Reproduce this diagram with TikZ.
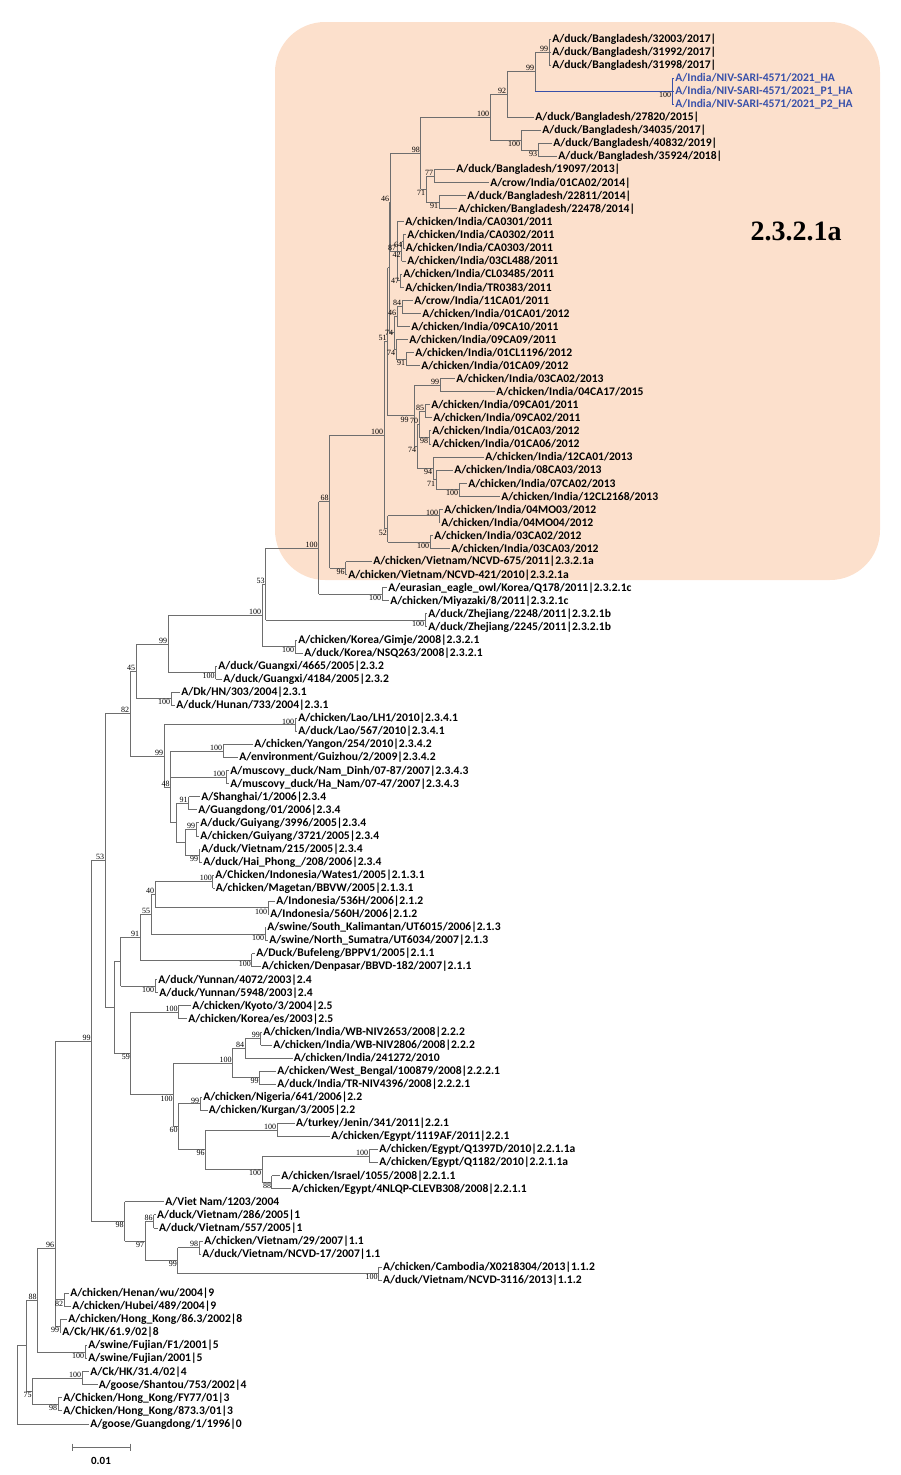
\documentclass[tikz,border=0pt]{standalone}
\usepackage{fontspec}
\usetikzlibrary{calc}
\newfontfamily\lblfont{Carlito}
\newfontfamily\bsfont{Liberation Serif}
\definecolor{brc}{RGB}{110,110,110}
\definecolor{sari}{RGB}{55,80,170}
\definecolor{boxc}{RGB}{252,224,204}
\tikzset{
  br/.style={draw=brc,line width=1pt},
  lbl/.style={anchor=west,inner sep=1.2pt,font=\lblfont\bfseries\fontsize{11.6}{11.6}\selectfont,text=black},
  bsbase/.style={inner sep=0.6pt,font=\bsfont\fontsize{8}{8}\selectfont},
  bsa/.style={bsbase,anchor=south east},
  bsb/.style={bsbase,anchor=north east},
  bsm/.style={bsbase,anchor=east},
}
\newcommand\Lf[4][]{\coordinate (l#2) at (#3,{39+(#2-1)*13.066});\node[lbl,#1] (t#2) at (l#2) {#4};}
\newcommand\Nd[5][]{%
  \path let \p1=($(#4)!0.5!(#5)$) in coordinate (#2) at (#3pt,\y1);%
  \draw[br,#1] (#2 |- #4) -- (#2 |- #5);%
  \draw[br,#1] (#2 |- #4) -- (#4);%
  \draw[br,#1] (#2 |- #5) -- (#5);%
}
\newcommand\Hb[3][]{\draw[br,#1] (#2 |- #3) -- (#3);}
\newcommand\Bs[4][]{\node[bs#4,#1] (b#2) at (#2) {#3};}
\begin{document}
\begin{tikzpicture}[x=1pt,y=-1pt]
\useasboundingbox (0,0) rectangle (900,1475);
\fill[boxc,rounded corners=50pt] (275,22) rectangle (880,580);
\node[font=\bsfont\bfseries\fontsize{28}{28}\selectfont] (clade) at (796,231) {2.3.2.1a};
% leaves
\Lf{1}{551}{A/duck/Bangladesh/32003/2017|}
\Lf{2}{551}{A/duck/Bangladesh/31992/2017|}
\Lf{3}{551}{A/duck/Bangladesh/31998/2017|}
\Lf[text=sari]{4}{674}{A/India/NIV-SARI-4571/2021\_HA}
\Lf[text=sari]{5}{674}{A/India/NIV-SARI-4571/2021\_P1\_HA}
\Lf[text=sari]{6}{674}{A/India/NIV-SARI-4571/2021\_P2\_HA}
\Lf{7}{534}{A/duck/Bangladesh/27820/2015|}
\Lf{8}{541}{A/duck/Bangladesh/34035/2017|}
\Lf{9}{552}{A/duck/Bangladesh/40832/2019|}
\Lf{10}{557}{A/duck/Bangladesh/35924/2018|}
\Lf{11}{455}{A/duck/Bangladesh/19097/2013|}
\Lf{12}{489}{A/crow/India/01CA02/2014|}
\Lf{13}{466}{A/duck/Bangladesh/22811/2014|}
\Lf{14}{457}{A/chicken/Bangladesh/22478/2014|}
\Lf{15}{404}{A/chicken/India/CA0301/2011}
\Lf{16}{406}{A/chicken/India/CA0302/2011}
\Lf{17}{404.5}{A/chicken/India/CA0303/2011}
\Lf{18}{406}{A/chicken/India/03CL488/2011}
\Lf{19}{402}{A/chicken/India/CL03485/2011}
\Lf{20}{404}{A/chicken/India/TR0383/2011}
\Lf{21}{413}{A/crow/India/11CA01/2011}
\Lf{22}{421}{A/chicken/India/01CA01/2012}
\Lf{23}{410}{A/chicken/India/09CA10/2011}
\Lf{24}{408}{A/chicken/India/09CA09/2011}
\Lf{25}{414}{A/chicken/India/01CL1196/2012}
\Lf{26}{420}{A/chicken/India/01CA09/2012}
\Lf{27}{455}{A/chicken/India/03CA02/2013}
\Lf{28}{495}{A/chicken/India/04CA17/2015}
\Lf{29}{430}{A/chicken/India/09CA01/2011}
\Lf{30}{432}{A/chicken/India/09CA02/2011}
\Lf{31}{431}{A/chicken/India/01CA03/2012}
\Lf{32}{431}{A/chicken/India/01CA06/2012}
\Lf{33}{484}{A/chicken/India/12CA01/2013}
\Lf{34}{453}{A/chicken/India/08CA03/2013}
\Lf{35}{467}{A/chicken/India/07CA02/2013}
\Lf{36}{500}{A/chicken/India/12CL2168/2013}
\Lf{37}{443}{A/chicken/India/04MO03/2012}
\Lf{38}{440}{A/chicken/India/04MO04/2012}
\Lf{39}{433}{A/chicken/India/03CA02/2012}
\Lf{40}{450}{A/chicken/India/03CA03/2012}
\Lf{41}{372}{A/chicken/Vietnam/NCVD-675/2011|2.3.2.1a}
\Lf{42}{347}{A/chicken/Vietnam/NCVD-421/2010|2.3.2.1a}
\Lf{43}{387}{A/eurasian\_eagle\_owl/Korea/Q178/2011|2.3.2.1c}
\Lf{44}{389}{A/chicken/Miyazaki/8/2011|2.3.2.1c}
\Lf{45}{427}{A/duck/Zhejiang/2248/2011|2.3.2.1b}
\Lf{46}{427}{A/duck/Zhejiang/2245/2011|2.3.2.1b}
\Lf{47}{297}{A/chicken/Korea/Gimje/2008|2.3.2.1}
\Lf{48}{303}{A/duck/Korea/NSQ263/2008|2.3.2.1}
\Lf{49}{217}{A/duck/Guangxi/4665/2005|2.3.2}
\Lf{50}{222}{A/duck/Guangxi/4184/2005|2.3.2}
\Lf{51}{180}{A/Dk/HN/303/2004|2.3.1}
\Lf{52}{175}{A/duck/Hunan/733/2004|2.3.1}
\Lf{53}{297}{A/chicken/Lao/LH1/2010|2.3.4.1}
\Lf{54}{297}{A/duck/Lao/567/2010|2.3.4.1}
\Lf{55}{253}{A/chicken/Yangon/254/2010|2.3.4.2}
\Lf{56}{238}{A/environment/Guizhou/2/2009|2.3.4.2}
\Lf{57}{229}{A/muscovy\_duck/Nam\_Dinh/07-87/2007|2.3.4.3}
\Lf{58}{229}{A/muscovy\_duck/Ha\_Nam/07-47/2007|2.3.4.3}
\Lf{59}{200}{A/Shanghai/1/2006|2.3.4}
\Lf{60}{197}{A/Guangdong/01/2006|2.3.4}
\Lf{61}{199}{A/duck/Guiyang/3996/2005|2.3.4}
\Lf{62}{199}{A/chicken/Guiyang/3721/2005|2.3.4}
\Lf{63}{200}{A/duck/Vietnam/215/2005|2.3.4}
\Lf{64}{202}{A/duck/Hai\_Phong\_/208/2006|2.3.4}
\Lf{65}{214}{A/Chicken/Indonesia/Wates1/2005|2.1.3.1}
\Lf{66}{214.5}{A/chicken/Magetan/BBVW/2005|2.1.3.1}
\Lf{67}{275}{A/Indonesia/536H/2006|2.1.2}
\Lf{68}{269}{A/Indonesia/560H/2006|2.1.2}
\Lf{69}{266}{A/swine/South\_Kalimantan/UT6015/2006|2.1.3}
\Lf{70}{268}{A/swine/North\_Sumatra/UT6034/2007|2.1.3}
\Lf{71}{255}{A/Duck/Bufeleng/BPPV1/2005|2.1.1}
\Lf{72}{260.5}{A/chicken/Denpasar/BBVD-182/2007|2.1.1}
\Lf{73}{157}{A/duck/Yunnan/4072/2003|2.4}
\Lf{74}{158}{A/duck/Yunnan/5948/2003|2.4}
\Lf{75}{191}{A/chicken/Kyoto/3/2004|2.5}
\Lf{76}{187}{A/chicken/Korea/es/2003|2.5}
\Lf{77}{262}{A/chicken/India/WB-NIV2653/2008|2.2.2}
\Lf{78}{272}{A/chicken/India/WB-NIV2806/2008|2.2.2}
\Lf{79}{292.5}{A/chicken/India/241272/2010}
\Lf{80}{276}{A/chicken/West\_Bengal/100879/2008|2.2.2.1}
\Lf{81}{276}{A/duck/India/TR-NIV4396/2008|2.2.2.1}
\Lf{82}{202}{A/chicken/Nigeria/641/2006|2.2}
\Lf{83}{207.5}{A/chicken/Kurgan/3/2005|2.2}
\Lf{84}{294.6}{A/turkey/Jenin/341/2011|2.2.1}
\Lf{85}{330}{A/chicken/Egypt/1119AF/2011|2.2.1}
\Lf{86}{378}{A/chicken/Egypt/Q1397D/2010|2.2.1.1a}
\Lf{87}{378}{A/chicken/Egypt/Q1182/2010|2.2.1.1a}
\Lf{88}{280}{A/chicken/Israel/1055/2008|2.2.1.1}
\Lf{89}{290.5}{A/chicken/Egypt/4NLQP-CLEVB308/2008|2.2.1.1}
\Lf{90}{164}{A/Viet Nam/1203/2004}
\Lf{91}{155.6}{A/duck/Vietnam/286/2005|1}
\Lf{92}{157.7}{A/duck/Vietnam/557/2005|1}
\Lf{93}{203}{A/chicken/Vietnam/29/2007|1.1}
\Lf{94}{201}{A/duck/Vietnam/NCVD-17/2007|1.1}
\Lf{95}{381.7}{A/chicken/Cambodia/X0218304/2013|1.1.2}
\Lf{96}{381.7}{A/duck/Vietnam/NCVD-3116/2013|1.1.2}
\Lf{97}{69}{A/chicken/Henan/wu/2004|9}
\Lf{98}{71}{A/chicken/Hubei/489/2004|9}
\Lf{99}{67}{A/chicken/Hong\_Kong/86.3/2002|8}
\Lf{100}{61}{A/Ck/HK/61.9/02|8}
\Lf{101}{87}{A/swine/Fujian/F1/2001|5}
\Lf{102}{87}{A/swine/Fujian/2001|5}
\Lf{103}{89}{A/Ck/HK/31.4/02|4}
\Lf{104}{97.5}{A/goose/Shantou/753/2002|4}
\Lf{105}{62}{A/Chicken/Hong\_Kong/FY77/01|3}
\Lf{106}{62}{A/Chicken/Hong\_Kong/873.3/01|3}
\Lf{107}{89}{A/goose/Guangdong/1/1996|0}
% internal nodes: 2.3.2.1a clade
\Nd{A}{549}{l1}{l3}\Hb{A}{l2}
\Nd[draw=sari]{S}{672}{l4}{l6}\Hb[draw=sari]{S}{l5}
\Nd{B}{535}{A}{S}\draw[br,draw=sari] (B |- S) -- (S);
\Nd{C}{507}{B}{l7}
\Nd{F}{538}{l9}{l10}
\Nd{E}{521}{l8}{F}
\Nd{D}{490}{C}{E}
\Nd{H}{434}{l11}{l12}
\Nd{I}{439}{l13}{l14}
\Nd{J}{426}{H}{I}
\Nd{G}{420.6}{D}{J}
\Nd{Nsf}{403}{l16}{l17}
\Nd{Nft}{400}{l19}{l20}
\Nd{Nfw}{401.5}{Nsf}{l18}
\Nd{Net}{397}{l15}{Nft}\Hb{Net}{Nfw}
\Nd{Nef}{402}{l21}{l22}
\Nd{Nfs}{397}{Nef}{l23}
\Nd{Nno}{406}{l25}{l26}
\Nd{Nsfa}{396}{l24}{Nno}
\Nd{Nsfb}{394}{Nfs}{Nsfa}
\Nd{K}{390}{G}{Net}
\Nd{X}{389.3}{K}{Nsfb}
\Nd{Cab}{440}{l27}{l28}
\Nd{Ccd}{425}{l29}{l30}
\Nd{Cef}{429}{l31}{l32}
\Nd{Nsv}{419}{Ccd}{Cef}
\Nd{Cgh}{459}{l35}{l36}
\Nd{Nsvo}{436}{l34}{Cgh}
\Nd{Nnf}{433}{l33}{Nsvo}
\Nd{Tsf}{417}{Nsv}{Nnf}
\Nd{Q}{414}{Cab}{Tsf}
\Nd{M}{387.5}{X}{Q}
\Nd{Cij}{439}{l37}{l38}
\Nd{Ckl}{430}{l39}{l40}
\Nd{Nft2}{387.7}{Cij}{Ckl}
\Nd{Lh}{384}{M}{Nft2}
\Nd{Vns}{345.5}{l41}{l42}
\Nd{Pse}{329.5}{Lh}{Vns}
\Nd{EO}{382}{l43}{l44}
\Nd{Qh}{318.5}{Pse}{EO}
\Nd{ZJ}{425}{l45}{l46}
\Nd{Rft}{265.5}{Qh}{ZJ}
\Nd{KO}{295}{l47}{l48}
\Nd{Sh}{262}{Rft}{KO}
\Nd{GX}{215.5}{l49}{l50}
\Nd{Tnn}{168}{Sh}{GX}
\Nd{HN}{171}{l51}{l52}
\Nd{Ufv}{136}{Tnn}{HN}
\Nd{Lao}{295}{l53}{l54}
\Nd{YG}{223}{l55}{l56}
\Nd{MD}{226}{l57}{l58}
\Nd{SH}{188.5}{l59}{l60}
\Nd{GY}{196}{l61}{l62}
\Nd{VH}{199}{l63}{l64}
\Nd{Zb}{185}{GY}{VH}
\Nd{Za}{176}{SH}{Zb}
\Nd{Wfe}{170.5}{YG}{Za}\Hb{Wfe}{MD}
\Nd{Vnn}{164}{Lao}{Wfe}
\Nd{AA}{130}{Ufv}{Vnn}
% 2.1, 2.4, 2.5, 2.2
\Nd{WT}{212.6}{l65}{l66}
\Nd{ID}{268}{l67}{l68}
\Nd{Nfo}{155}{WT}{ID}
\Nd{SW}{265}{l69}{l70}
\Nd{Nff}{151}{Nfo}{SW}
\Nd{BF}{251.7}{l71}{l72}
\Nd{Nnb}{140}{Nff}{BF}
\Nd{YN}{155}{l73}{l74}
\Nd{CC}{120.7}{Nnb}{YN}
\Nd{KY}{178.4}{l75}{l76}
\Nd{TT}{260.6}{l77}{l78}
\Nd{RR}{245}{TT}{l79}
\Nd{SS}{259.3}{l80}{l81}
\Nd{PP}{232.4}{RR}{SS}
\Nd{UU}{200}{l82}{l83}
\Nd{WW}{277}{l84}{l85}
\Nd{YY}{369}{l86}{l87}
\Nd{ZZ}{271.8}{l88}{l89}
\Nd{XX}{262}{YY}{ZZ}
\Nd{VV}{205.4}{WW}{XX}
\Nd{QQ}{178.4}{UU}{VV}
\Nd{FF}{173.4}{PP}{QQ}
\Nd{EE}{130.7}{KY}{FF}
\Nd{DD}{114}{CC}{EE}
\Nd{BB}{105}{AA}{DD}
% clade 1
\Nd{LL}{153.5}{l91}{l92}
\Nd{NN}{199}{l93}{l94}
\Nd{OO}{378.4}{l95}{l96}
\Nd{MM}{177.6}{NN}{OO}
\Nd{KK}{145}{LL}{MM}
\Nd{II}{124.5}{l90}{KK}
\Nd{GG}{91.3}{BB}{II}
% basal
\Nd{Hn}{64}{l97}{l98}
\Nd{Hk}{60}{l99}{l100}
\coordinate (HH) at (55,1248);
\draw[br] (HH |- GG) -- (HH |- Hk);
\Hb{HH}{GG}\Hb{HH}{Hn}\Hb{HH}{Hk}
\Nd{SWF}{85}{l101}{l102}
\Nd{Nee}{37.3}{HH}{SWF}
\Nd{CS}{82}{l103}{l104}
\Nd{HK}{58}{l105}{l106}
\Nd{Nss}{32.4}{CS}{HK}
\Nd{Xz}{26}{Nee}{Nss}
\Nd{Rz}{17.4}{Xz}{l107}
% bootstrap values
\Bs{A}{99}{a}\Bs{S}{100}{b}\Bs{B}{99}{a}\Bs{C}{92}{a}\Bs{F}{93}{b}\Bs{E}{100}{b}
\Bs{D}{100}{a}\Bs{H}{77}{a}\Bs{I}{91}{b}\Bs{J}{71}{b}\Bs{G}{98}{a}
\Bs{Nsf}{64}{b}\Bs{Nft}{47}{m}\Bs{Nfw}{42}{b}\Bs{Net}{87}{a}
\Bs{Nef}{84}{a}\Bs{Nfs}{46}{a}\Bs{Nno}{91}{b}\Bs{Nsfa}{74}{b}\Bs{Nsfb}{74}{m}
\Bs{K}{46}{a}\Bs{M}{51}{a}
\Bs{Cab}{99}{a}\Bs{Ccd}{85}{a}\Bs{Cef}{98}{b}\Bs{Nsv}{70}{a}\Bs{Cgh}{100}{b}
\Bs{Nsvo}{71}{b}\Bs{Nnf}{94}{b}\Bs{Tsf}{74}{b}\Bs[xshift=-4.5pt,yshift=-1pt]{Q}{99}{b}
\Bs{Cij}{100}{a}\Bs{Ckl}{100}{b}\Bs{Nft2}{52}{b}\Bs{Lh}{100}{a}
\Bs{Vns}{96}{b}\Bs{Pse}{68}{a}\Bs{EO}{100}{b}\Bs{Qh}{100}{a}\Bs{ZJ}{100}{b}
\Bs{Rft}{53}{a}\Bs{KO}{100}{b}\Bs{Sh}{100}{a}\Bs{GX}{100}{b}\Bs{Tnn}{99}{a}
\Bs{HN}{100}{b}\Bs{Ufv}{45}{a}\Bs{Lao}{100}{a}\Bs{YG}{100}{a}\Bs{MD}{100}{a}
\Bs{SH}{91}{a}\Bs{GY}{99}{a}\Bs{VH}{99}{b}\Bs{Wfe}{48}{a}\Bs{Vnn}{99}{a}\Bs{AA}{82}{a}
\Bs{WT}{100}{a}\Bs{ID}{100}{b}\Bs{Nfo}{40}{a}\Bs{SW}{100}{b}\Bs{Nff}{55}{a}
\Bs{BF}{100}{b}\Bs{Nnb}{91}{a}\Bs{YN}{100}{b}\Bs{KY}{100}{a}\Bs{TT}{99}{a}
\Bs{RR}{84}{a}\Bs{SS}{99}{b}\Bs{PP}{100}{a}\Bs{UU}{99}{a}\Bs{WW}{100}{a}
\Bs{YY}{100}{a}\Bs{ZZ}{88}{b}\Bs{XX}{100}{b}\Bs{VV}{96}{b}\Bs{QQ}{60}{b}
\Bs{FF}{100}{b}\Bs{EE}{59}{b}\Bs{BB}{53}{a}\Bs{GG}{99}{a}
\Bs{LL}{86}{a}\Bs{NN}{98}{a}\Bs{OO}{100}{b}\Bs{MM}{99}{b}\Bs{KK}{97}{b}\Bs{II}{98}{b}
\Bs{Hn}{82}{b}\Bs{Hk}{99}{b}\Bs{HH}{96}{a}\Bs{Nee}{88}{a}\Bs{SWF}{100}{b}
\Bs{CS}{100}{a}\Bs{HK}{98}{b}\Bs{Nss}{75}{b}
% scale bar
\coordinate (sbl) at (72,1447);
\coordinate (sbr) at (130,1447);
\draw[br] (sbl) -- (sbr);
\draw[br] ($(sbl)+(0,-3.5)$) -- ($(sbl)+(0,3.5)$);
\draw[br] ($(sbr)+(0,-3.5)$) -- ($(sbr)+(0,3.5)$);
\node[font=\lblfont\bfseries\fontsize{11}{11}\selectfont] (sbt) at (101,1461) {0.01};
\end{tikzpicture}
\end{document}
